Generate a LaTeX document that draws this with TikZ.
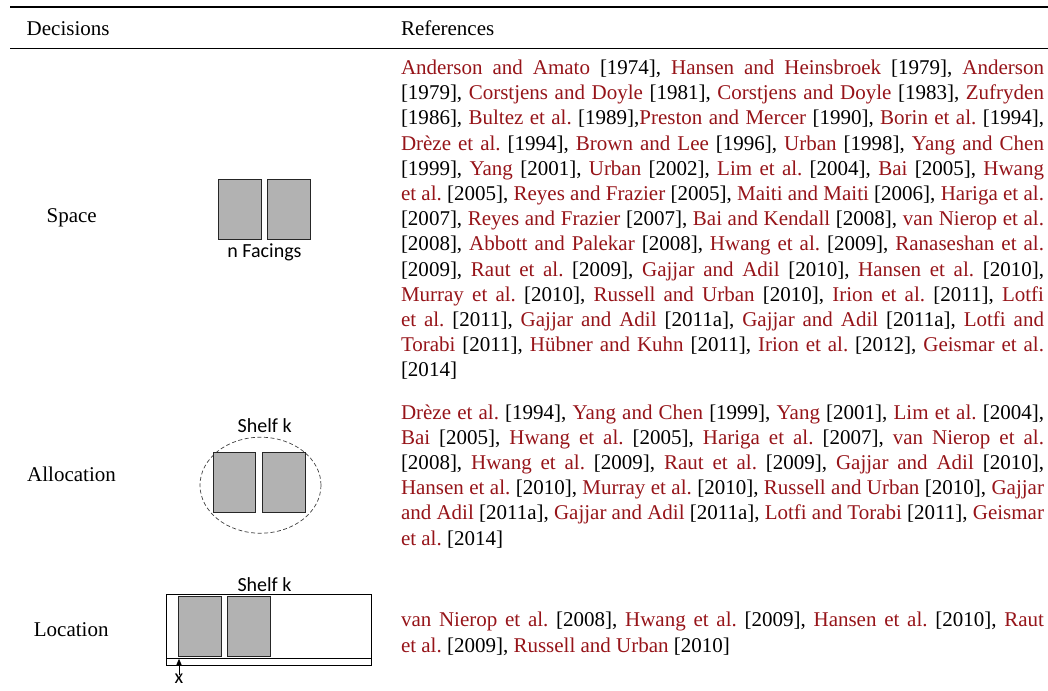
\documentclass[tikz,border=0pt]{standalone}
\usepackage{fontspec}
\setmainfont{Liberation Serif}
\newfontfamily\figsans{Carlito}
\usetikzlibrary{arrows.meta,shapes.geometric}
\definecolor{citered}{RGB}{150,20,25}
\definecolor{facefill}{RGB}{178,178,178}
% author part of a citation in link colour
\newcommand\au[1]{\textcolor{citered}{#1}}
\newcommand\forcebreak{\linebreak[4]}
\newcommand\refsetup{\frenchspacing\tolerance=10000\hyphenpenalty=10000\relax}
\begin{document}
\begin{tikzpicture}[x=1pt,y=-1pt,
  every node/.style={inner sep=0pt, outer sep=0pt},
  serif/.style={font=\fontsize{21}{25.2}\selectfont},
  reflist/.style={serif, anchor=north west, text width=643pt, align=justify},
  figlabel/.style={font=\figsans\fontsize{20}{24}\selectfont},
  facing/.style={draw=black!85, line width=0.8pt, fill=facefill,
    minimum width=42.7pt, minimum height=59.5pt},
  shelfring/.style={ellipse, draw=black!75, line width=0.7pt,
    dash pattern=on 4pt off 2.5pt},
  shelfbox/.style={draw=black, line width=0.8pt},
  rulethick/.style={line width=2.2pt},
  rulethin/.style={line width=1.1pt},
]
\useasboundingbox (0,0) rectangle (1048,690);

% table rules
\draw[rulethick] (10,7) -- (1048,7);
\draw[rulethin] (10,48.3) -- (1048,48.3);

% header
\node[serif, anchor=base west] (hdec) at (26.7,35.5) {Decisions};
\node[serif, anchor=base west] (href) at (401,35.5) {References};

% decision labels
\node[serif, anchor=base] (lspace) at (71.7,222.3) {Space};
\node[serif, anchor=base] (lalloc) at (71.5,481) {Allocation};
\node[serif, anchor=base] (lloc) at (71.2,636) {Location};

% space: n facings
\node[facing] (sp1) at (239.65,209.2) {};
\node[facing] (sp2) at (289.2,209.2) {};
\node[figlabel, anchor=base] (spn) at (264.5,257.3) {n Facings};

% allocation: facings on shelf k
\node[shelfring, minimum width=121pt, minimum height=96pt] (ring) at (260.5,485.2) {};
\node[facing] (al1) at (234.35,482.5) {};
\node[facing] (al2) at (284.2,482.5) {};
\node[figlabel, anchor=base] (alk) at (264.7,432.3) {Shelf k};

% location: position x along shelf k
\node[shelfbox, minimum width=204.3pt, minimum height=70.7pt] (shelf) at (268.85,629.65) {};
\coordinate (floorw) at (166.7,658.3);
\draw[line width=0.8pt] (floorw) -- (floorw -| shelf.east);
\node[facing, minimum height=59.3pt] (lo1) at (199.65,626.35) {};
\node[facing, minimum height=59.3pt] (lo2) at (249.2,626.35) {};
\node[figlabel, anchor=base] (lok) at (264.5,591.7) {Shelf k};
\node[figlabel, anchor=base] (xlab) at (179,683.3) {x};
\coordinate (xpos) at (179,658.8);
\draw[line width=0.8pt, -{Triangle[length=6pt,width=5pt]}] ([yshift=-1pt]xlab.north) -- (xpos);

% reference lists
\node[reflist] (rspace) at (401,60) {\refsetup
\au{Anderson and Amato} [1974], \au{Hansen and Heinsbroek} [1979], \au{Anderson}\forcebreak
[1979], \au{Corstjens and Doyle} [1981], \au{Corstjens and Doyle} [1983], \au{Zufryden}\forcebreak
[1986], \au{Bultez et al.} [1989],\au{Preston and Mercer} [1990], \au{Borin et al.} [1994],\forcebreak
\au{Drèze et al.} [1994], \au{Brown and Lee} [1996], \au{Urban} [1998], \au{Yang and Chen}\forcebreak
[1999], \au{Yang} [2001], \au{Urban} [2002], \au{Lim et al.} [2004], \au{Bai} [2005], \au{Hwang}\forcebreak
\au{et al.} [2005], \au{Reyes and Frazier} [2005], \au{Maiti and Maiti} [2006], \au{Hariga et al.}\forcebreak
[2007], \au{Reyes and Frazier} [2007], \au{Bai and Kendall} [2008], \au{van Nierop et al.}\forcebreak
[2008], \au{Abbott and Palekar} [2008], \au{Hwang et al.} [2009], \au{Ranaseshan et al.}\forcebreak
[2009], \au{Raut et al.} [2009], \au{Gajjar and Adil} [2010], \au{Hansen et al.} [2010],\forcebreak
\au{Murray et al.} [2010], \au{Russell and Urban} [2010], \au{Irion et al.} [2011], \au{Lotfi}\forcebreak
\au{et al.} [2011], \au{Gajjar and Adil} [2011a], \au{Gajjar and Adil} [2011a], \au{Lotfi and}\forcebreak
\au{Torabi} [2011], \au{Hübner and Kuhn} [2011], \au{Irion et al.} [2012], \au{Geismar et al.}\forcebreak
[2014]};

\node[reflist] (ralloc) at (401,404.4) {\refsetup
\au{Drèze et al.} [1994], \au{Yang and Chen} [1999], \au{Yang} [2001], \au{Lim et al.} [2004],\forcebreak
\au{Bai} [2005], \au{Hwang et al.} [2005], \au{Hariga et al.} [2007], \au{van Nierop et al.}\forcebreak
[2008], \au{Hwang et al.} [2009], \au{Raut et al.} [2009], \au{Gajjar and Adil} [2010],\forcebreak
\au{Hansen et al.} [2010], \au{Murray et al.} [2010], \au{Russell and Urban} [2010], \au{Gajjar}\forcebreak
\au{and Adil} [2011a], \au{Gajjar and Adil} [2011a], \au{Lotfi and Torabi} [2011], \au{Geismar}\forcebreak
\au{et al.} [2014]};

\node[reflist] (rloc) at (401,612.4) {\refsetup
\au{van Nierop et al.} [2008], \au{Hwang et al.} [2009], \au{Hansen et al.} [2010], \au{Raut}\forcebreak
\au{et al.} [2009], \au{Russell and Urban} [2010]};
\end{tikzpicture}
\end{document}
